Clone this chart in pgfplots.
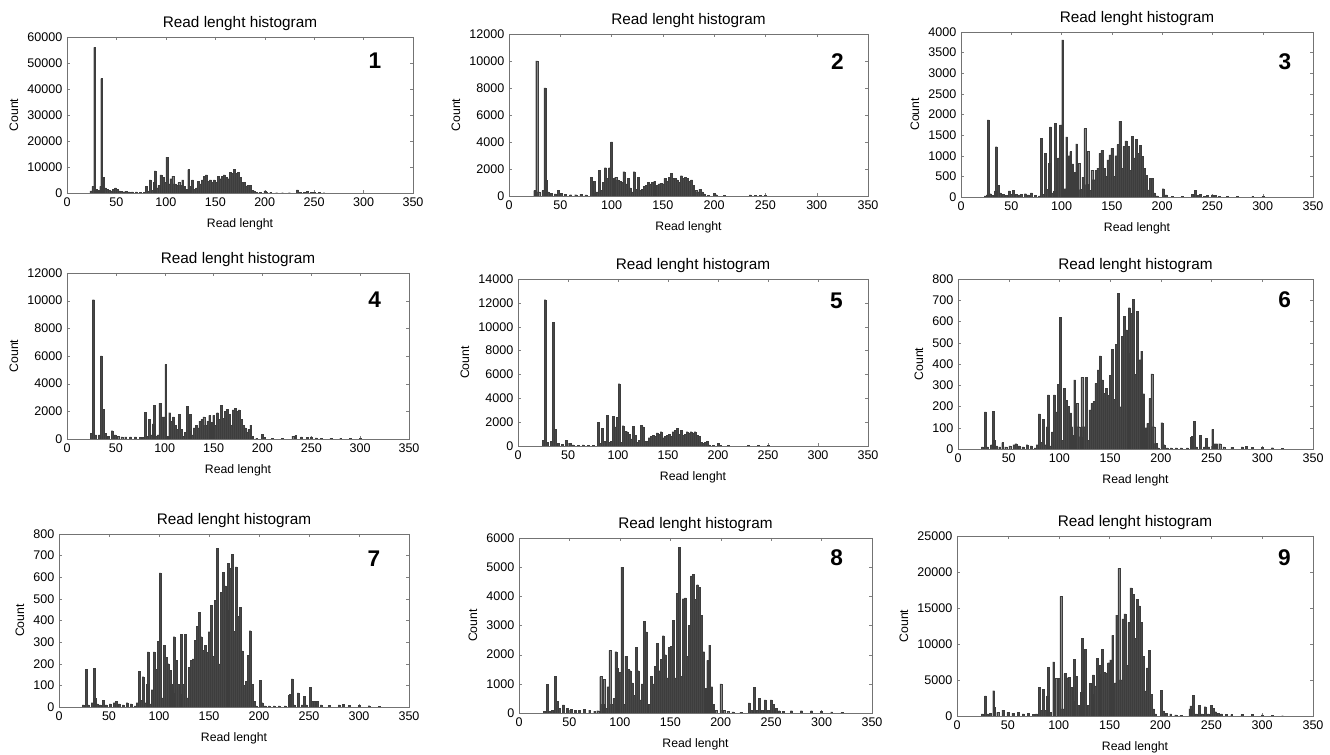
\documentclass[border=0pt]{standalone}
\usepackage{fontspec}
\setmainfont{Liberation Sans}
\usepackage{pgfplots}
\usepackage{pgfplotstable}
\pgfplotsset{compat=1.18}

\pgfplotsset{
  rl/.style={
    scale only axis, anchor=south west,
    xmin=0, xmax=350, ymin=0,
    xtick={0,50,...,350},
    title={Read lenght histogram},
    xlabel={Read lenght}, ylabel={Count},
    title style={font=\fontsize{11.5}{13}\selectfont, yshift=-5pt},
    label style={font=\fontsize{9.2}{11}\selectfont},
    tick label style={font=\fontsize{9.4}{11}\selectfont},
    /pgf/number format/assume math mode=true,
    /pgf/number format/1000 sep={},
    scaled y ticks=false,
    axis line style={black!55, line width=0.7pt},
    tick align=inside,
    major tick length=2pt,
    tick style={black!50},
    xlabel style={yshift=-2pt},
  },
  hbar/.style={ybar, bar width=1.9, fill=black!72, draw=black!76, line width=0.2pt},
}
\tikzset{num/.style={font=\bfseries\fontsize{17}{17}\selectfont}}

% panel 1
\pgfplotstableread{
x y
24 800
26 2500
28 56000
30 1500
32 1000
34 2500
35 44000
37 6000
39 2000
41 1500
43 1000
45 800
47 1500
49 2000
51 1500
53 800
55 600
58 500
60 700
63 400
66 400
70 400
74 300
78 300
80 2500
82 700
84 5000
86 1000
88 4000
89 8500
91 2000
93 3000
95 7000
97 6000
99 4000
101 13800
103 3500
105 5500
107 6500
109 3500
111 3000
113 4000
115 3000
117 5000
119 2500
121 1500
123 9000
125 2500
127 5000
129 1500
131 2000
133 4500
135 3500
137 5000
139 6500
141 7000
143 4500
145 5000
147 4000
149 5000
151 4000
153 6500
155 5500
157 6500
159 7000
161 6000
163 5500
165 8000
167 7500
169 9000
171 7500
173 8000
175 6000
177 4000
179 4000
181 2500
183 3000
185 3000
187 1000
189 800
191 300
195 200
200 800
202 300
206 200
212 100
218 100
225 100
233 1200
236 300
240 300
243 600
247 300
250 200
255 200
260 100
}\dataA

% panel 2
\pgfplotstableread{
x y
25 400
27 10000
29 300
33 400
35 8000
36 1200
38 300
41 200
45 150
48 400
51 200
55 120
60 100
65 100
70 120
75 80
80 1400
82 200
83 1100
86 300
88 1900
90 400
92 1000
94 2100
96 1300
98 2100
100 4000
102 1300
104 1400
106 1200
108 1100
110 1000
112 1800
114 900
116 1300
118 600
120 300
122 1800
124 500
126 1400
128 400
130 500
132 700
134 800
136 1000
138 900
140 1000
142 1100
144 800
146 900
148 950
150 900
152 1300
154 1100
156 1400
158 1700
160 1300
162 1300
164 1200
166 1000
168 1500
170 1300
172 1400
174 1300
176 1100
178 1200
180 800
182 400
184 300
186 500
188 300
190 150
194 50
200 200
202 100
210 50
235 80
240 60
245 40
250 50
}\dataB

% panel 3
\pgfplotstableread{
x y
24 30
26 50
27 1870
29 80
31 40
34 150
35 1220
37 280
39 100
42 60
45 40
48 150
50 60
52 160
55 60
58 50
60 60
64 80
67 50
70 100
74 40
78 30
80 1420
82 60
84 1060
86 180
88 820
89 1700
91 100
93 150
94 1790
97 950
99 1750
101 3810
103 200
105 1460
107 1000
109 1100
111 800
113 600
115 1290
117 820
119 180
121 480
123 1660
125 300
126 1110
128 160
130 650
132 420
134 650
136 700
138 1060
140 1130
142 700
144 500
146 900
148 1020
150 1180
152 500
154 1000
156 1270
158 1840
160 700
162 1230
164 1360
166 1230
168 650
170 1470
172 950
174 1400
176 1060
178 1260
180 980
182 700
184 520
186 170
188 450
190 450
192 100
195 30
201 200
204 50
210 20
220 15
230 60
233 160
236 40
238 60
242 20
245 40
250 50
253 40
257 20
265 10
275 10
290 10
300 10
}\dataC

% panel 4
\pgfplotstableread{
x y
25 400
27 10070
29 300
33 300
35 6000
37 2150
39 400
42 200
46 600
49 300
52 200
56 150
60 150
65 150
70 150
75 100
78 100
80 1950
82 200
84 1400
86 300
88 1100
89 2450
91 200
93 300
95 2600
97 1600
99 1600
101 5400
103 200
105 1900
107 1300
109 1600
111 1000
113 700
115 1800
117 700
119 200
121 500
123 2350
125 600
126 1800
128 300
130 800
132 1000
134 800
136 1300
138 1400
140 1600
142 1000
144 1300
146 1700
148 1200
150 1700
152 1000
154 1900
156 1400
158 2450
160 1500
162 2000
164 2150
166 1800
168 1000
170 2100
172 2200
174 2000
176 2100
178 1400
180 1000
182 800
184 500
186 700
188 1000
190 200
194 50
200 350
202 100
210 50
220 40
231 200
234 250
240 150
246 120
250 150
255 80
260 50
270 40
280 40
290 40
300 30
}\dataD

% panel 5
\pgfplotstableread{
x y
25 500
27 12260
29 300
33 400
35 10360
37 1400
40 200
44 150
48 500
52 200
55 100
60 80
65 100
70 80
75 50
80 2000
82 200
84 1500
86 400
89 2550
91 300
93 400
95 2500
97 1600
99 2400
101 5220
103 300
105 1700
107 1250
109 1200
111 1000
113 600
115 1650
117 900
119 300
121 500
123 1750
125 1600
127 400
129 400
131 700
133 800
135 900
137 800
139 1100
141 1000
143 1200
145 700
147 800
149 900
151 1000
153 800
155 1200
157 1300
159 1500
161 1000
163 1300
165 900
167 1000
169 1200
171 1100
173 1200
175 1100
177 1200
179 900
181 800
183 300
185 200
187 300
189 400
191 100
195 50
200 200
202 80
210 40
230 50
240 50
250 40
}\dataE

% panels 6 and 7 (same histogram)
\pgfplotstableread{
x y
24 10
27 175
29 10
33 20
35 178
36 40
38 15
41 10
44 30
47 10
51 15
55 20
57 25
60 15
64 10
68 20
72 15
76 5
78 20
80 165
82 30
84 140
86 20
88 105
89 255
91 15
93 80
95 255
97 175
99 305
101 620
103 42
105 285
107 230
109 200
111 170
112 105
114 65
115 325
117 215
119 105
121 58
122 337
124 105
126 337
128 42
130 184
132 215
134 223
136 309
138 372
140 438
142 325
144 262
146 285
148 254
150 348
152 469
154 235
156 494
158 733
160 199
162 529
164 623
166 560
168 450
169 665
171 640
173 705
175 350
177 648
179 420
181 460
183 260
185 100
187 120
189 238
191 353
193 105
195 27
197 5
201 124
203 20
206 5
210 5
215 5
220 5
226 5
230 55
231 60
233 130
235 10
239 65
243 10
245 50
247 10
251 92
253 25
255 25
258 25
262 10
270 8
280 10
284 12
290 8
300 8
310 6
320 3
}\dataF

% panel 8
\pgfplotstableread{
x y
25 50
28 990
30 50
33 100
36 1260
38 400
40 150
44 280
48 150
52 120
56 100
60 90
65 120
70 100
75 60
78 80
81 1250
83 300
84 1150
86 150
88 900
90 2150
92 300
94 500
96 2100
97 1550
100 1400
102 5000
104 300
106 1950
108 1500
110 1450
112 1030
114 600
116 2250
118 1450
120 450
122 1000
124 3150
126 2780
129 300
131 1250
133 1000
135 1600
137 2380
139 1450
141 1850
143 2650
145 2000
147 1200
149 2250
151 2280
153 3180
155 1200
157 4100
159 5680
161 1250
163 3920
165 3950
167 1950
169 3000
171 4700
173 4750
175 3900
177 4400
179 4300
181 3350
183 2100
185 850
187 1800
189 2330
191 900
193 300
195 100
200 1000
203 100
207 60
212 40
220 30
228 350
230 100
233 880
236 100
238 500
241 100
244 450
247 100
250 450
252 300
255 150
258 80
262 60
270 80
280 80
290 80
300 60
310 40
320 20
}\dataH

% panel 9
\pgfplotstableread{
x y
25 300
28 2780
30 300
33 400
36 3520
37 1200
40 500
45 800
50 500
55 400
60 500
65 300
70 400
75 200
78 300
81 4000
83 800
85 3700
87 800
89 2800
90 6800
92 500
95 7500
97 5200
100 5200
102 16600
104 1000
106 5900
108 5300
110 5400
112 4000
114 2000
115 7900
117 5500
119 1500
122 3300
123 10800
126 9300
129 1500
131 4500
133 3000
134 5700
136 4200
138 8000
140 5800
141 7000
143 9300
145 6100
147 6000
149 7400
151 7800
153 11200
155 4600
157 14000
159 20500
161 5000
163 13500
165 14200
167 7000
169 13000
171 17800
173 16900
175 10800
177 16200
179 15300
181 13000
183 8300
185 3500
187 6700
189 9100
191 3000
193 1000
195 300
201 3600
203 700
206 400
210 300
215 150
220 100
229 1000
230 1400
232 2900
235 300
238 1500
241 300
244 1300
247 300
250 1500
252 1100
254 600
257 400
260 300
265 200
270 200
280 200
290 200
300 150
310 100
320 50
}\dataI

\begin{document}
\begin{tikzpicture}
\path[use as bounding box] (0,0) rectangle (997.5pt,566.25pt);

% row 1
\begin{axis}[rl, at={(50.25pt,421.5pt)}, width=259.5pt, height=117pt,
  ymax=60000, ytick={0,10000,...,60000}]
\addplot[hbar] table[x=x,y=y] {\dataA};
\node[num] at (rel axis cs:0.89,0.85) {1};
\end{axis}

\begin{axis}[rl, at={(381.75pt,419.25pt)}, width=269.25pt, height=121.5pt,
  ymax=12000, ytick={0,2000,...,12000}]
\addplot[hbar] table[x=x,y=y] {\dataB};
\node[num] at (rel axis cs:0.915,0.83) {2};
\end{axis}

\begin{axis}[rl, at={(720.75pt,418.5pt)}, width=264pt, height=123.75pt,
  ymax=4000, ytick={0,500,...,4000}]
\addplot[hbar] table[x=x,y=y] {\dataC};
\node[num] at (rel axis cs:0.92,0.82) {3};
\end{axis}

% row 2
\begin{axis}[rl, at={(50.25pt,237pt)}, width=256.5pt, height=124.5pt,
  ymax=12000, ytick={0,2000,...,12000}]
\addplot[hbar] table[x=x,y=y] {\dataD};
\node[num] at (rel axis cs:0.90,0.84) {4};
\end{axis}

\begin{axis}[rl, at={(388.5pt,231.75pt)}, width=262.5pt, height=125.25pt,
  ymax=14000, ytick={0,2000,...,14000}]
\addplot[hbar] table[x=x,y=y] {\dataE};
\node[num] at (rel axis cs:0.91,0.87) {5};
\end{axis}

\begin{axis}[rl, at={(718.5pt,229.5pt)}, width=266.25pt, height=127.5pt,
  ymax=800, ytick={0,100,...,800}]
\addplot[hbar] table[x=x,y=y] {\dataF};
\node[num] at (rel axis cs:0.92,0.88) {6};
\end{axis}

% row 3
\begin{axis}[rl, at={(44.25pt,36pt)}, width=262.5pt, height=129.75pt,
  ymax=800, ytick={0,100,...,800}]
\addplot[hbar] table[x=x,y=y] {\dataF};
\node[num] at (rel axis cs:0.90,0.86) {7};
\end{axis}

\begin{axis}[rl, at={(389.25pt,31.5pt)}, width=264.75pt, height=131.25pt,
  ymax=6000, ytick={0,1000,...,6000}]
\addplot[hbar] table[x=x,y=y] {\dataH};
\node[num] at (rel axis cs:0.90,0.89) {8};
\end{axis}

\begin{axis}[rl, at={(717.75pt,29.25pt)}, width=267pt, height=135pt,
  ymax=25000, ytick={0,5000,...,25000}]
\addplot[hbar] table[x=x,y=y] {\dataI};
\node[num] at (rel axis cs:0.92,0.88) {9};
\end{axis}
\end{tikzpicture}
\end{document}
